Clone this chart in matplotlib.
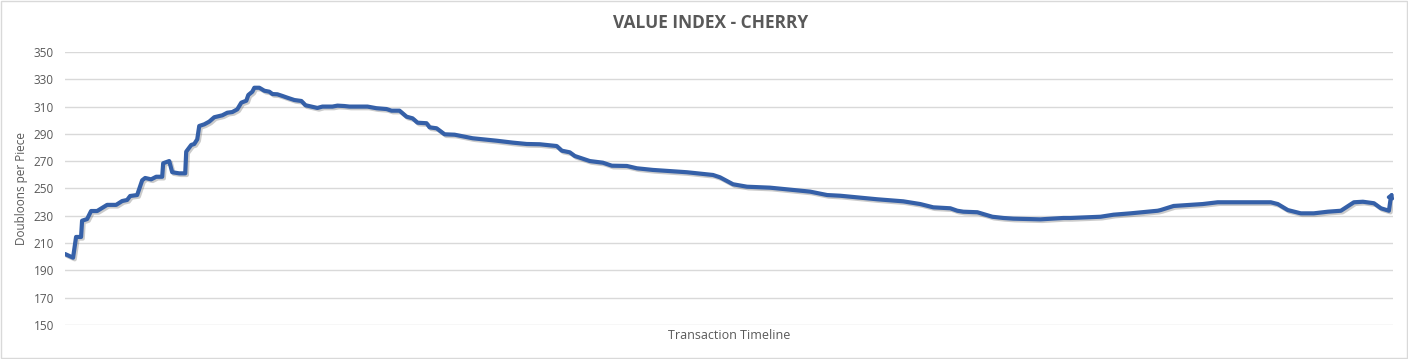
import matplotlib.pyplot as plt
import matplotlib.patheffects as pe
from matplotlib.patches import Rectangle

# transaction index and price in doubloons
transaction = [0, 8, 11, 16, 17, 22, 26, 32, 42, 51, 57, 62, 65, 72, 77, 80, 86, 91, 97,
               98, 104, 107, 114, 120, 121, 126, 129, 132, 134, 139, 144, 149, 157, 162,
               167, 172, 176, 181, 183, 187, 189, 194, 199, 204, 207, 212, 217, 222, 229,
               236, 240, 246, 252, 257, 267, 272, 279, 284, 302, 311, 321, 326, 334, 341,
               347, 352, 361, 364, 371, 379, 389, 407, 431, 447, 461, 474, 491, 496, 504,
               509, 524, 537, 546, 561, 571, 587, 621, 647, 654, 661, 667, 681, 704, 727,
               744, 761, 774, 811, 837, 854, 867, 884, 891, 897, 911, 926, 937, 947, 974,
               997, 1004, 1034, 1047, 1064, 1091, 1094, 1107, 1121, 1136, 1151, 1204, 1211,
               1221, 1234, 1247, 1261, 1274, 1287, 1296, 1307, 1314, 1322, 1324, 1326]
price = [202, 199.3, 214.5, 214.5, 226.4, 227.6, 233.5, 233.5, 238, 238, 240.8, 241.6,
         244.5, 245.2, 256, 257.7, 256.7, 258.6, 258.6, 268.5, 270.1, 261.9, 261.1, 261.1,
         277, 281.9, 282.6, 286, 295.8, 297, 299, 302.2, 303.6, 305.5, 306, 308, 312.9,
         314.3, 318.5, 320.9, 323.8, 323.8, 321.6, 320.9, 319.2, 319, 317.8, 316.5, 314.8,
         314.1, 311, 310, 309, 310, 310, 310.7, 310.4, 310, 310, 308.8, 308.2, 307, 307,
         302.6, 301.4, 298.2, 297.8, 294.8, 294.1, 289.7, 289.4, 286.8, 285, 283.6, 282.6,
         282.4, 281.1, 277.7, 276.5, 273.8, 270.1, 268.9, 266.7, 266.5, 264.8, 263.6, 261.9,
         259.9, 258.2, 255.5, 253.1, 251.3, 250.6, 248.9, 247.7, 245.2, 244.7, 242.1, 240.6,
         238.6, 236.2, 235.5, 233.7, 233, 232.6, 229.3, 228.4, 227.9, 227.4, 228.4, 228.4,
         229.3, 230.8, 231.8, 233.7, 234.2, 237.2, 237.9, 238.6, 239.9, 239.9, 238.6, 234.2,
         231.8, 231.8, 233, 233.7, 239.9, 240.3, 239.2, 235.5, 233.7, 244, 247.7]
yticks = list(range(150, 351, 20))

text_col = '#595959'
line_col = '#3560a8'

fig = plt.figure(figsize=(14.08, 3.59), dpi=100)
ax = fig.add_axes([0.0462, 0.0947, 0.9431, 0.7605])

ax.plot(transaction[:-1], price[:-1], color=line_col, linewidth=3, solid_capstyle='round',
        solid_joinstyle='round',
        path_effects=[pe.SimpleLineShadow(offset=(1.2, -1.2), shadow_color='#555555', alpha=0.3),
                      pe.Normal()])
ax.annotate('', xy=(transaction[-1], price[-1]), xytext=(transaction[-2], price[-2]),
            arrowprops=dict(arrowstyle='-|>,head_length=0.25,head_width=0.15',
                            color=line_col, lw=2.5, shrinkA=0, shrinkB=0))

ax.set_xlim(transaction[0], transaction[-1])
ax.set_ylim(150, 350)
ax.set_yticks(yticks)
ax.set_xticks([])
ax.grid(axis='y', color='#d9d9d9', linewidth=1)
ax.set_axisbelow(True)
for spine in ax.spines.values():
    spine.set_visible(False)
ax.tick_params(axis='y', length=0, pad=8, labelsize=8.5, labelcolor=text_col)
for lab in ax.get_yticklabels():
    lab.set_family('Open Sans')

ax.set_xlabel('Transaction Timeline', fontsize=9, color=text_col, family='Open Sans', labelpad=3)
ax.set_ylabel('Doubloons per Piece', fontsize=8.5, color=text_col, family='Open Sans')
ax.yaxis.set_label_coords(-0.028, 0.5)
fig.text(0.5045, 0.937, 'VALUE INDEX - CHERRY', ha='center', va='center', fontsize=12.5,
         fontweight='bold', color=text_col, family='Open Sans')

fig.patches.append(Rectangle((0.0005, 0.0015), 0.999, 0.997, transform=fig.transFigure,
                             fill=False, edgecolor='#d9d9d9', linewidth=1))

fig.savefig('out.png', dpi=100, facecolor='white')
